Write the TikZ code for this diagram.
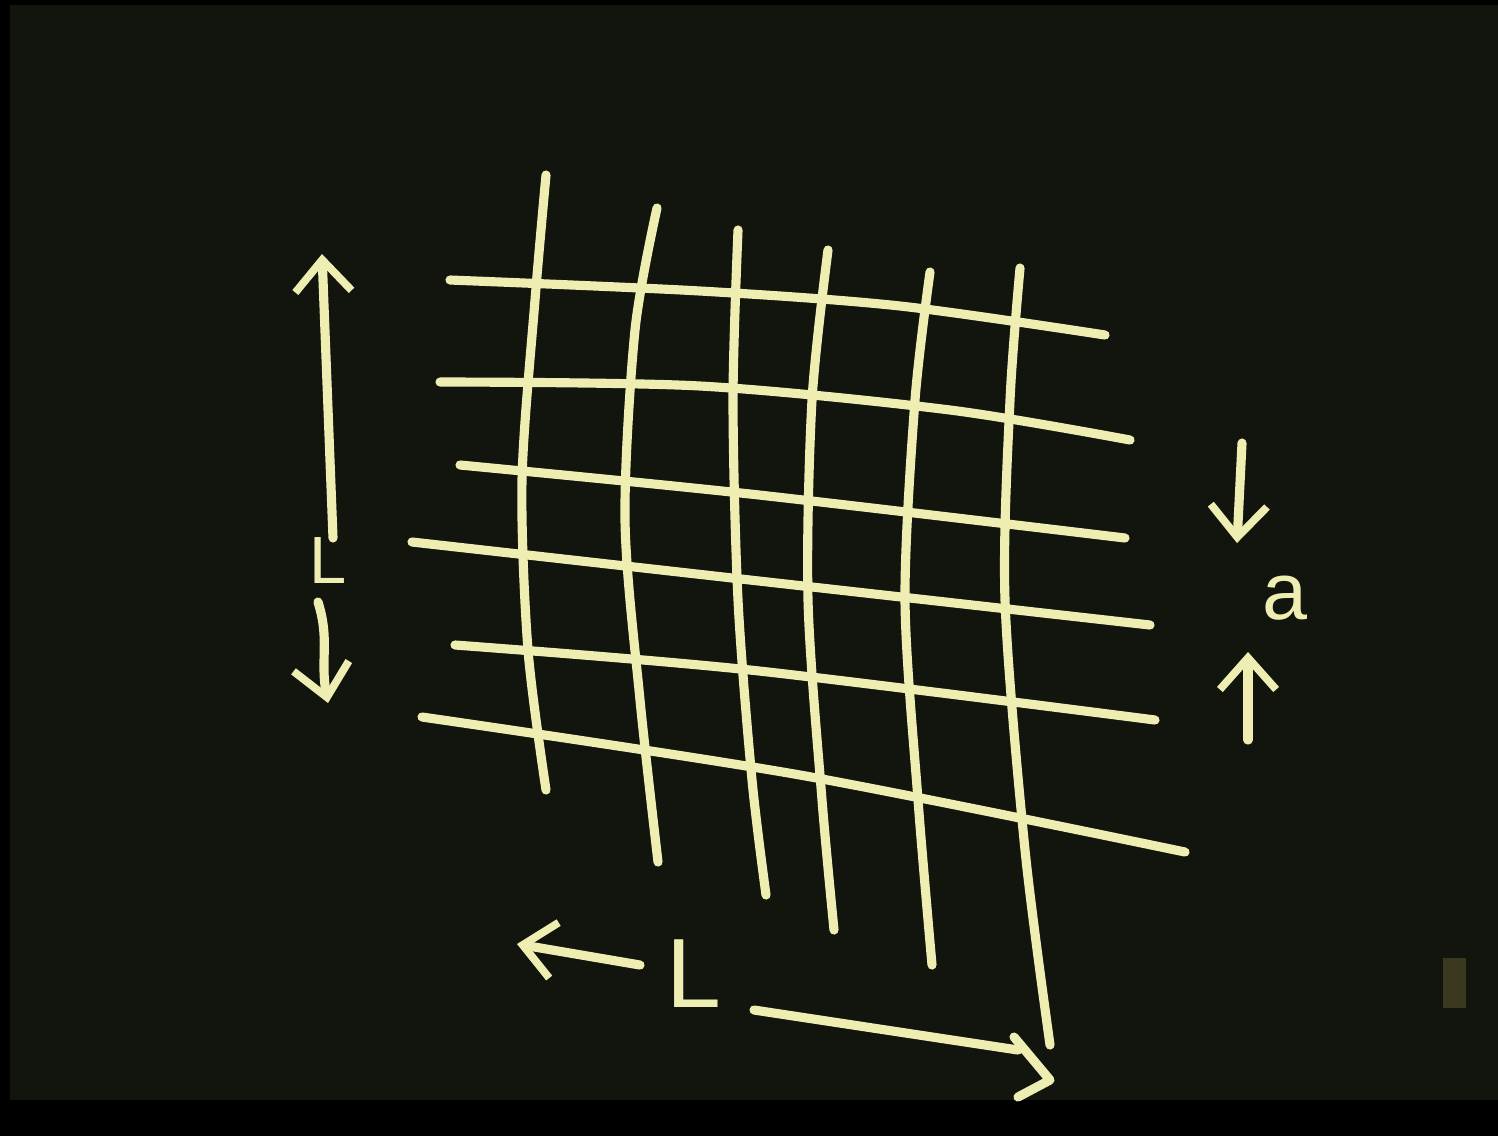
\documentclass[tikz,border=0pt]{standalone}
\usepackage{fontspec}
\setmainfont{Liberation Sans}
\usetikzlibrary{arrows.meta}

\definecolor{board}{RGB}{18,21,13}
\definecolor{chalk}{RGB}{238,238,178}
\definecolor{holder}{RGB}{58,56,30}

\begin{document}
\begin{tikzpicture}[
    x=0.01cm, y=-0.01cm,
    chalkline/.style={draw=chalk, line width=2.6pt, line cap=round, line join=round},
    dimarrow/.style={chalkline, -{Straight Barb[length=9pt, width=16pt, line width=2.2pt]}},
    chalktext/.style={text=chalk, inner sep=0pt, font=\fontsize{19}{19}\selectfont},
]
    \useasboundingbox (0,0) rectangle (1498,1136);
    % Board and frame
    \fill[black] (0,0) rectangle (1498,1136);
    \fill[board] (10,5) rectangle (1498,1100);
    \fill[holder] (1443,958) rectangle (1466,1008);

    % Horizontal lines of the lattice
    \draw[chalkline] plot[smooth] coordinates {(450,280) (700,291) (900,306) (1105,335)};
    \draw[chalkline] plot[smooth] coordinates {(440,382) (700,386) (950,410) (1130,440)};
    \draw[chalkline] plot[smooth] coordinates {(460,465) (750,494) (1125,538)};
    \draw[chalkline] plot[smooth] coordinates {(412,542) (750,580) (1150,625)};
    \draw[chalkline] plot[smooth] coordinates {(455,645) (750,670) (1155,720)};
    \draw[chalkline] plot[smooth] coordinates {(422,717) (800,775) (1185,852)};

    % Vertical lines of the lattice
    \draw[chalkline] plot[smooth] coordinates {(546,175) (535,300) (522,480) (528,650) (546,790)};
    \draw[chalkline] plot[smooth] coordinates {(657,208) (635,330) (625,520) (640,700) (658,862)};
    \draw[chalkline] plot[smooth] coordinates {(738,230) (733,400) (738,600) (752,780) (766,895)};
    \draw[chalkline] plot[smooth] coordinates {(828,250) (812,400) (808,600) (822,800) (834,930)};
    \draw[chalkline] plot[smooth] coordinates {(930,272) (915,400) (905,600) (918,800) (932,965)};
    \draw[chalkline] plot[smooth] coordinates {(1020,268) (1010,400) (1005,600) (1025,850) (1050,1045)};

    % Left size L
    \node[chalktext] (lenLeft) at (328,560) {L};
    \coordinate (leftTop) at (322,254);
    \coordinate (leftBot) at (328,703);
    \draw[dimarrow] (333,538) -- (leftTop);
    \draw[dimarrow] (318,602) .. controls (330,640) and (320,660) .. (leftBot);

    % Spacing a
    \node[chalktext, font=\fontsize{23}{23}\selectfont] (spacing) at (1285,598) {a};
    \coordinate (aTop) at (1237,543);
    \coordinate (aBot) at (1248,652);
    \draw[dimarrow] (1242,443) -- (aTop);
    \draw[dimarrow] (1248,740) -- (aBot);

    % Bottom size L
    \node[chalktext, font=\fontsize{28}{28}\selectfont] (lenBottom) at (694,974) {L};
    \coordinate (botLeft) at (517,944);
    \draw[dimarrow] (640,965) -- (botLeft);
    \draw[chalkline] (754,1010) -- (1018,1050);
    \draw[chalkline] (1014,1037) -- (1050,1080) -- (1018,1097);
\end{tikzpicture}
\end{document}
